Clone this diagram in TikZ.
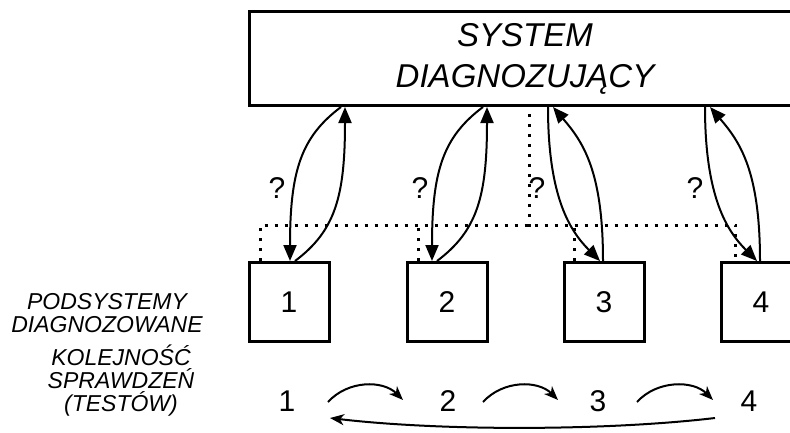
\documentclass[tikz,border=0pt]{standalone}
\usepackage{fontspec}
\setmainfont{Liberation Sans}
\usetikzlibrary{arrows.meta}

\begin{document}
\begin{tikzpicture}[x=1pt,y=-1pt,
  box/.style={draw, line width=3pt, minimum width=80pt, minimum height=79pt, inner sep=0pt,
    font=\fontsize{30}{36}\selectfont},
  link/.style={line width=2pt, -{Triangle[length=16pt,width=13pt]}},
  order/.style={line width=2pt, -{Stealth[length=14pt,width=11pt,inset=4pt]}},
  bus/.style={line width=3pt, dash pattern=on 3pt off 7pt},
  lbl/.style={font=\fontsize{30}{36}\selectfont, inner sep=0pt},
  side/.style={font=\itshape\fontsize{23}{23}\selectfont, align=center, inner sep=0pt}]
\clip (0,0) rectangle (790,432);

% diagnosing system (runs past the right edge)
\node[draw, line width=3pt, minimum width=600pt, minimum height=94pt, inner sep=0pt,
  anchor=north west] (sys) at (248,10) {};
\node[font=\itshape\fontsize{33}{41}\selectfont, align=center, inner sep=0pt] (systxt)
  at (525,59) {SYSTEM\\DIAGNOZUJĄCY};

% diagnosed subsystems
\node[box] (b1) at (289,302) {1};
\node[box] (b2) at (447,302) {2};
\node[box] (b3) at (604,302) {3};
\node[box] (b4) at (761,302) {4};

% dotted bus joining the subsystems to the system
\coordinate (tap) at (529,226.5);
\draw[bus] ([xshift=13]b1.north west) -- ([shift={(13,-36)}]b1.north west)
  -| ([xshift=16]b4.north west);
\draw[bus] ([xshift=13]b2.north west) -- +(0,-36);
\draw[bus] ([xshift=12]b3.north west) -- +(0,-36);
\draw[bus] (tap) -- (tap |- sys.south);

% test requests and answers
\draw[link] ([xshift=93]sys.south west) .. controls +(-40,30) and +(0,-90) .. ([xshift=1]b1.north);
\draw[link] ([xshift=6]b1.north) .. controls +(40,-30) and +(0,90) .. ([xshift=97]sys.south west);
\draw[link] ([xshift=235]sys.south west) .. controls +(-40,30) and +(0,-90) .. ([xshift=-15]b2.north);
\draw[link] ([xshift=-10]b2.north) .. controls +(40,-30) and +(0,90) .. ([xshift=239]sys.south west);
\draw[link] ([xshift=300]sys.south west) .. controls +(0,90) and +(-30,-30) .. ([xshift=-4]b3.north);
\draw[link] ([xshift=-1]b3.north) .. controls +(0,-90) and +(30,35) .. ([xshift=305]sys.south west);
\draw[link] ([xshift=457]sys.south west) .. controls +(0,90) and +(-30,-30) .. ([xshift=-4]b4.north);
\draw[link] ([xshift=-1]b4.north) .. controls +(0,-90) and +(30,35) .. ([xshift=462]sys.south west);

\node[lbl] (q1) at (277,188) {?};
\node[lbl] (q2) at (420,188) {?};
\node[lbl] (q3) at (537,188) {?};
\node[lbl] (q4) at (695,188) {?};

% side captions
\node[side] (podsys) at (107,313) {PODSYSTEMY\\DIAGNOZOWANE};
\node[side] (kolej) at (121,381) {KOLEJNOŚĆ\\SPRAWDZEŃ\\(TESTÓW)};

% order of the checks
\node[lbl] (n1) at (287,401) {1};
\node[lbl] (n2) at (448,401) {2};
\node[lbl] (n3) at (598,401) {3};
\node[lbl] (n4) at (749,401) {4};
\draw[order] ([shift={(41,1)}]n1.center) .. controls +(20,-22) and +(-20,-20) .. ([shift={(-45,-1)}]n2.center);
\draw[order] ([shift={(35,1)}]n2.center) .. controls +(20,-22) and +(-20,-20) .. ([shift={(-40,-1)}]n3.center);
\draw[order] ([shift={(39,1)}]n3.center) .. controls +(20,-22) and +(-20,-20) .. ([shift={(-36,-1)}]n4.center);
\draw[order] ([shift={(-34,17)}]n4.center) .. controls +(-110,13) and +(110,13) .. ([shift={(43,17)}]n1.center);
\end{tikzpicture}
\end{document}
